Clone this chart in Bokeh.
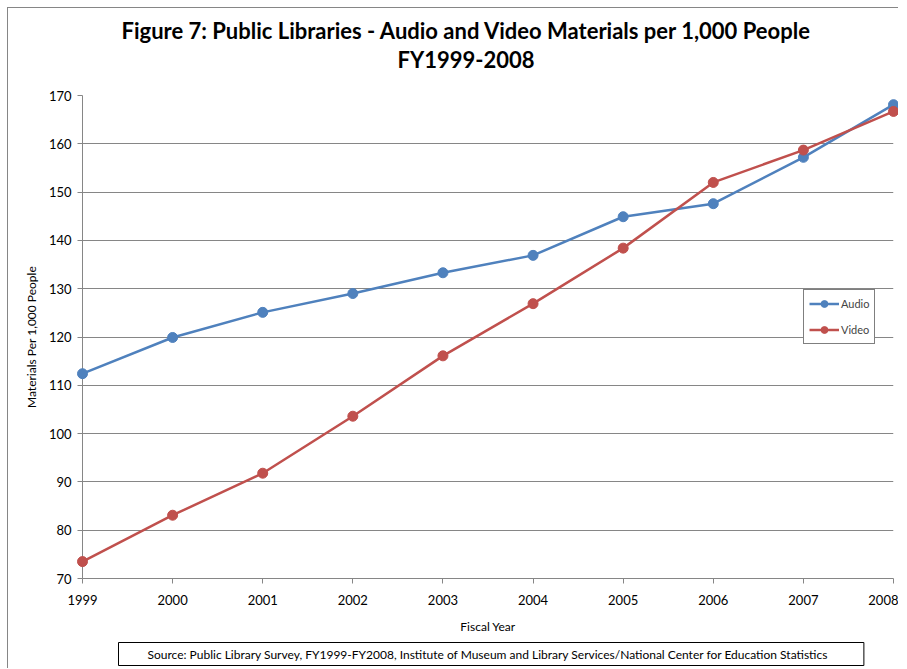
from bokeh.plotting import figure
from bokeh.models import Range1d, Title, Legend, LegendItem, FixedTicker
from bokeh.embed import file_html
from bokeh.resources import INLINE

years = [1999, 2000, 2001, 2002, 2003, 2004, 2005, 2006, 2007, 2008]
audio = [112.4, 119.9, 125.1, 129.0, 133.3, 136.9, 144.9, 147.6, 157.2, 168.1]
video = [73.5, 83.1, 91.8, 103.6, 116.1, 126.9, 138.4, 152.0, 158.7, 166.7]
y_ticks = [70, 80, 90, 100, 110, 120, 130, 140, 150, 160, 170]

title1 = "Figure 7: Public Libraries - Audio and Video Materials per 1,000 People"
title2 = "FY1999-2008"
source = "Source: Public Library Survey, FY1999-FY2008, Institute  of Museum and Library Services/National  Center for Education Statistics"

FONT = "Lato"
BLUE = "#4F81BD"
RED = "#C0504D"
GRAY = "#868686"

W, H = 891, 661
p = figure(width=W, height=H, output_backend="svg", toolbar_location=None,
           x_range=Range1d(1999, 2008), y_range=Range1d(70, 170),
           min_border_left=74, min_border_right=6, min_border_top=87, min_border_bottom=91)
p.outline_line_color = None
p.background_fill_color = "white"
p.border_fill_color = "white"
p.styles = {"margin-left": "7px", "margin-top": "7px",
            "border-left": "1px solid #868686", "border-top": "1px solid #868686"}

for ax in (p.xaxis[0], p.yaxis[0]):
    ax.axis_line_color = GRAY
    ax.major_tick_line_color = GRAY
    ax.major_tick_out = 5
    ax.major_tick_in = 0
    ax.minor_tick_line_color = None
    ax.major_label_text_font = FONT
    ax.major_label_text_font_size = "13px"
    ax.major_label_text_color = "#000000"
    ax.axis_label_text_font = FONT
    ax.axis_label_text_font_size = "12px"
    ax.axis_label_text_font_style = "normal"
    ax.axis_label_text_color = "#000000"

p.xaxis.ticker = FixedTicker(ticks=years)
p.yaxis.ticker = FixedTicker(ticks=y_ticks)
p.xaxis.major_label_standoff = 11
p.yaxis.major_label_standoff = 6
p.xaxis.axis_label = "Fiscal Year"
p.yaxis.axis_label = "Materials Per 1,000 People"
p.xaxis.axis_label_standoff = 11
p.yaxis.axis_label_standoff = 7

p.xgrid.grid_line_color = None
p.ygrid.grid_line_color = GRAY
p.ygrid.grid_line_width = 1

la = p.line(years, audio, line_width=2.5, color=BLUE, level="overlay")
ca = p.scatter(years, audio, size=10, color=BLUE, level="overlay")
lv = p.line(years, video, line_width=2.5, color=RED, level="overlay")
cv = p.scatter(years, video, size=10, color=RED, level="overlay")

legend = Legend(items=[LegendItem(label="Audio", renderers=[la, ca]),
                       LegendItem(label="Video", renderers=[lv, cv])],
                location=(721, 234))
legend.border_line_color = "black"
legend.border_line_width = 1
legend.label_text_font = FONT
legend.label_text_font_size = "11px"
legend.glyph_width = 30
legend.glyph_height = 17
legend.label_height = 17
legend.spacing = 9
legend.padding = 5
legend.margin = 0
legend.label_standoff = 2
legend.background_fill_alpha = 1
p.add_layout(legend, "center")

p.title.visible = False
spacer = Title(text=" ", align="left", text_font=FONT, text_font_size="17px",
               standoff=0)
t2 = Title(text=title2, align="left", offset=315, text_font=FONT,
           text_font_size="22px", text_font_style="bold", text_color="#000000",
           standoff=0)
t1 = Title(text=title1, align="left", offset=39, text_font=FONT,
           text_font_size="22px", text_font_style="bold", text_color="#000000",
           standoff=0)
p.add_layout(spacer, "above")
p.add_layout(t2, "above")
p.add_layout(t1, "above")

src = Title(text=source, align="left", offset=36, text_font=FONT,
            text_font_size="12px", text_font_style="normal", text_color="#000000",
            border_line_color="black", border_line_width=1,
            background_fill_color="white",
            padding=dict(left=29, right=29, top=4, bottom=4), standoff=8)
p.add_layout(src, "below")

open("out.html", "w").write(file_html(p, INLINE))
